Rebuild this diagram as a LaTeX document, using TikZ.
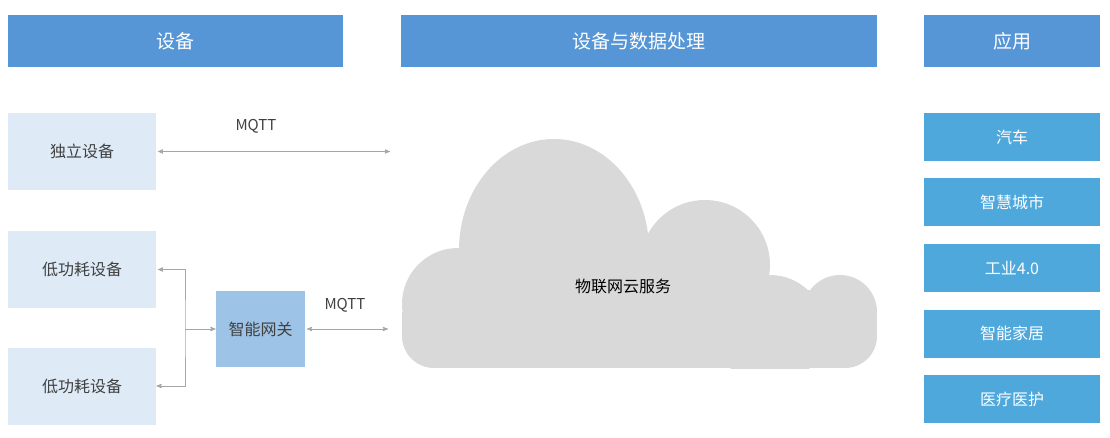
\documentclass[tikz,border=0pt]{standalone}
\usepackage{fontspec}
\setmainfont{Noto Sans CJK SC}
\usepackage{xcolor}
\usepackage{tikz}
\usetikzlibrary{arrows}
\usetikzlibrary{calc}
\usetikzlibrary{positioning}

\definecolor{hdrblue}{RGB}{86,150,214}
\definecolor{appblue}{RGB}{78,168,220}
\definecolor{devblue}{RGB}{222,235,247}
\definecolor{gwblue}{RGB}{157,195,230}
\definecolor{cloudgray}{RGB}{217,217,217}
\definecolor{linegray}{RGB}{166,166,166}
\definecolor{txtgray}{RGB}{64,64,64}

\begin{document}
\begin{tikzpicture}[x=1pt,y=-1pt,>=stealth',line width=0.9pt,node distance=65.5pt]
 				 \tikzstyle{hdr}=[fill=hdrblue, text=white, minimum height=52pt, inner sep=0pt, font=\fontsize{19}{21}\selectfont]
 				 \tikzstyle{app}=[fill=appblue, text=white, minimum width=176pt, minimum height=48pt, inner sep=0pt, font=\fontsize{16}{18}\selectfont]
 				 \tikzstyle{dev}=[fill=devblue, text=txtgray, minimum width=148pt, minimum height=77pt, inner sep=0pt, font=\fontsize{16}{18}\selectfont]
 				 \tikzstyle{link}=[draw=linegray, shorten <=1.5pt]
 				 \useasboundingbox (0,0) rectangle (1110,438);
 				 % cloud
 				 \begin{scope}[fill=cloudgray]
 					 \clip (0,0) rectangle (1110,368);
 					 \fill (434,290) rectangle (845,368);
 					 \fill (402,312) rectangle (877,336);
 					 \fill (434,336) circle [radius=32pt];
 					 \fill (845,336) circle [radius=32pt];
 					 \fill (458,304) circle [radius=56pt];
 					 \fill (554,250) ellipse [x radius=95pt, y radius=111pt];
 					 \fill (705,265) circle [radius=65pt];
 					 \fill (770,330) circle [radius=55pt];
 					 \fill (840,312) circle [radius=37pt];
 				 \end{scope}
 					 \node (cloud) at (623,286) {\fontsize{16}{18}\selectfont 物联网云服务};
 				 % headers
 					 \node[hdr, minimum width=335pt] (hdev) at (175.5,41) {设备};
 					 \node[hdr, minimum width=476pt] (hproc) at (639,41) {设备与数据处理};
 					 \node[hdr, minimum width=176pt] (happ) at (1012,41) {应用};
 				 % applications
 					 \node[app] 			(car) at (1012,137)       		{汽车};
 					 \node[app] 			(city) [below of=car]     		{智慧城市};
 					 \node[app] 			(ind) [below of=city]     		{工业4.0};
 					 \node[app] 			(home) [below of=ind]     		{智能家居};
 					 \node[app] 			(med) [below of=home]     		{医疗医护};
 				 % devices
 					 \node[dev] 			(indep) at (82,151.5)      		{独立设备};
 					 \node[dev] 			(lp1) at (82,269.5)       		{低功耗设备};
 					 \node[dev] 			(lp2) at (82,386)         		{低功耗设备};
 					 \node[fill=gwblue, text=txtgray, minimum width=89pt, minimum height=76pt, inner sep=0pt, font=\fontsize{16}{18}\selectfont] (gw) at (260.5,329) {智能网关};
 					 \coordinate (c1) at (390,151.5);
 					 \coordinate (c2) at (388,329);
 					 \coordinate (bx) at (185,329);
 					 \node[text=txtgray, font=\fontsize{15}{17}\selectfont] (mq1) at (256,126) {MQTT};
 					 \node[text=txtgray, font=\fontsize{15}{17}\selectfont] (mq2) at (345,305) {MQTT};
				\path
				(indep.east) edge [link, <->] (c1)
				(gw.east) edge [link, <->] (c2)
				(bx) edge [link, ->, shorten <=0pt] (gw.west);
				\draw[link, <->] (lp1.east) -| (bx) |- (lp2.east);
\end{tikzpicture}
\end{document}
